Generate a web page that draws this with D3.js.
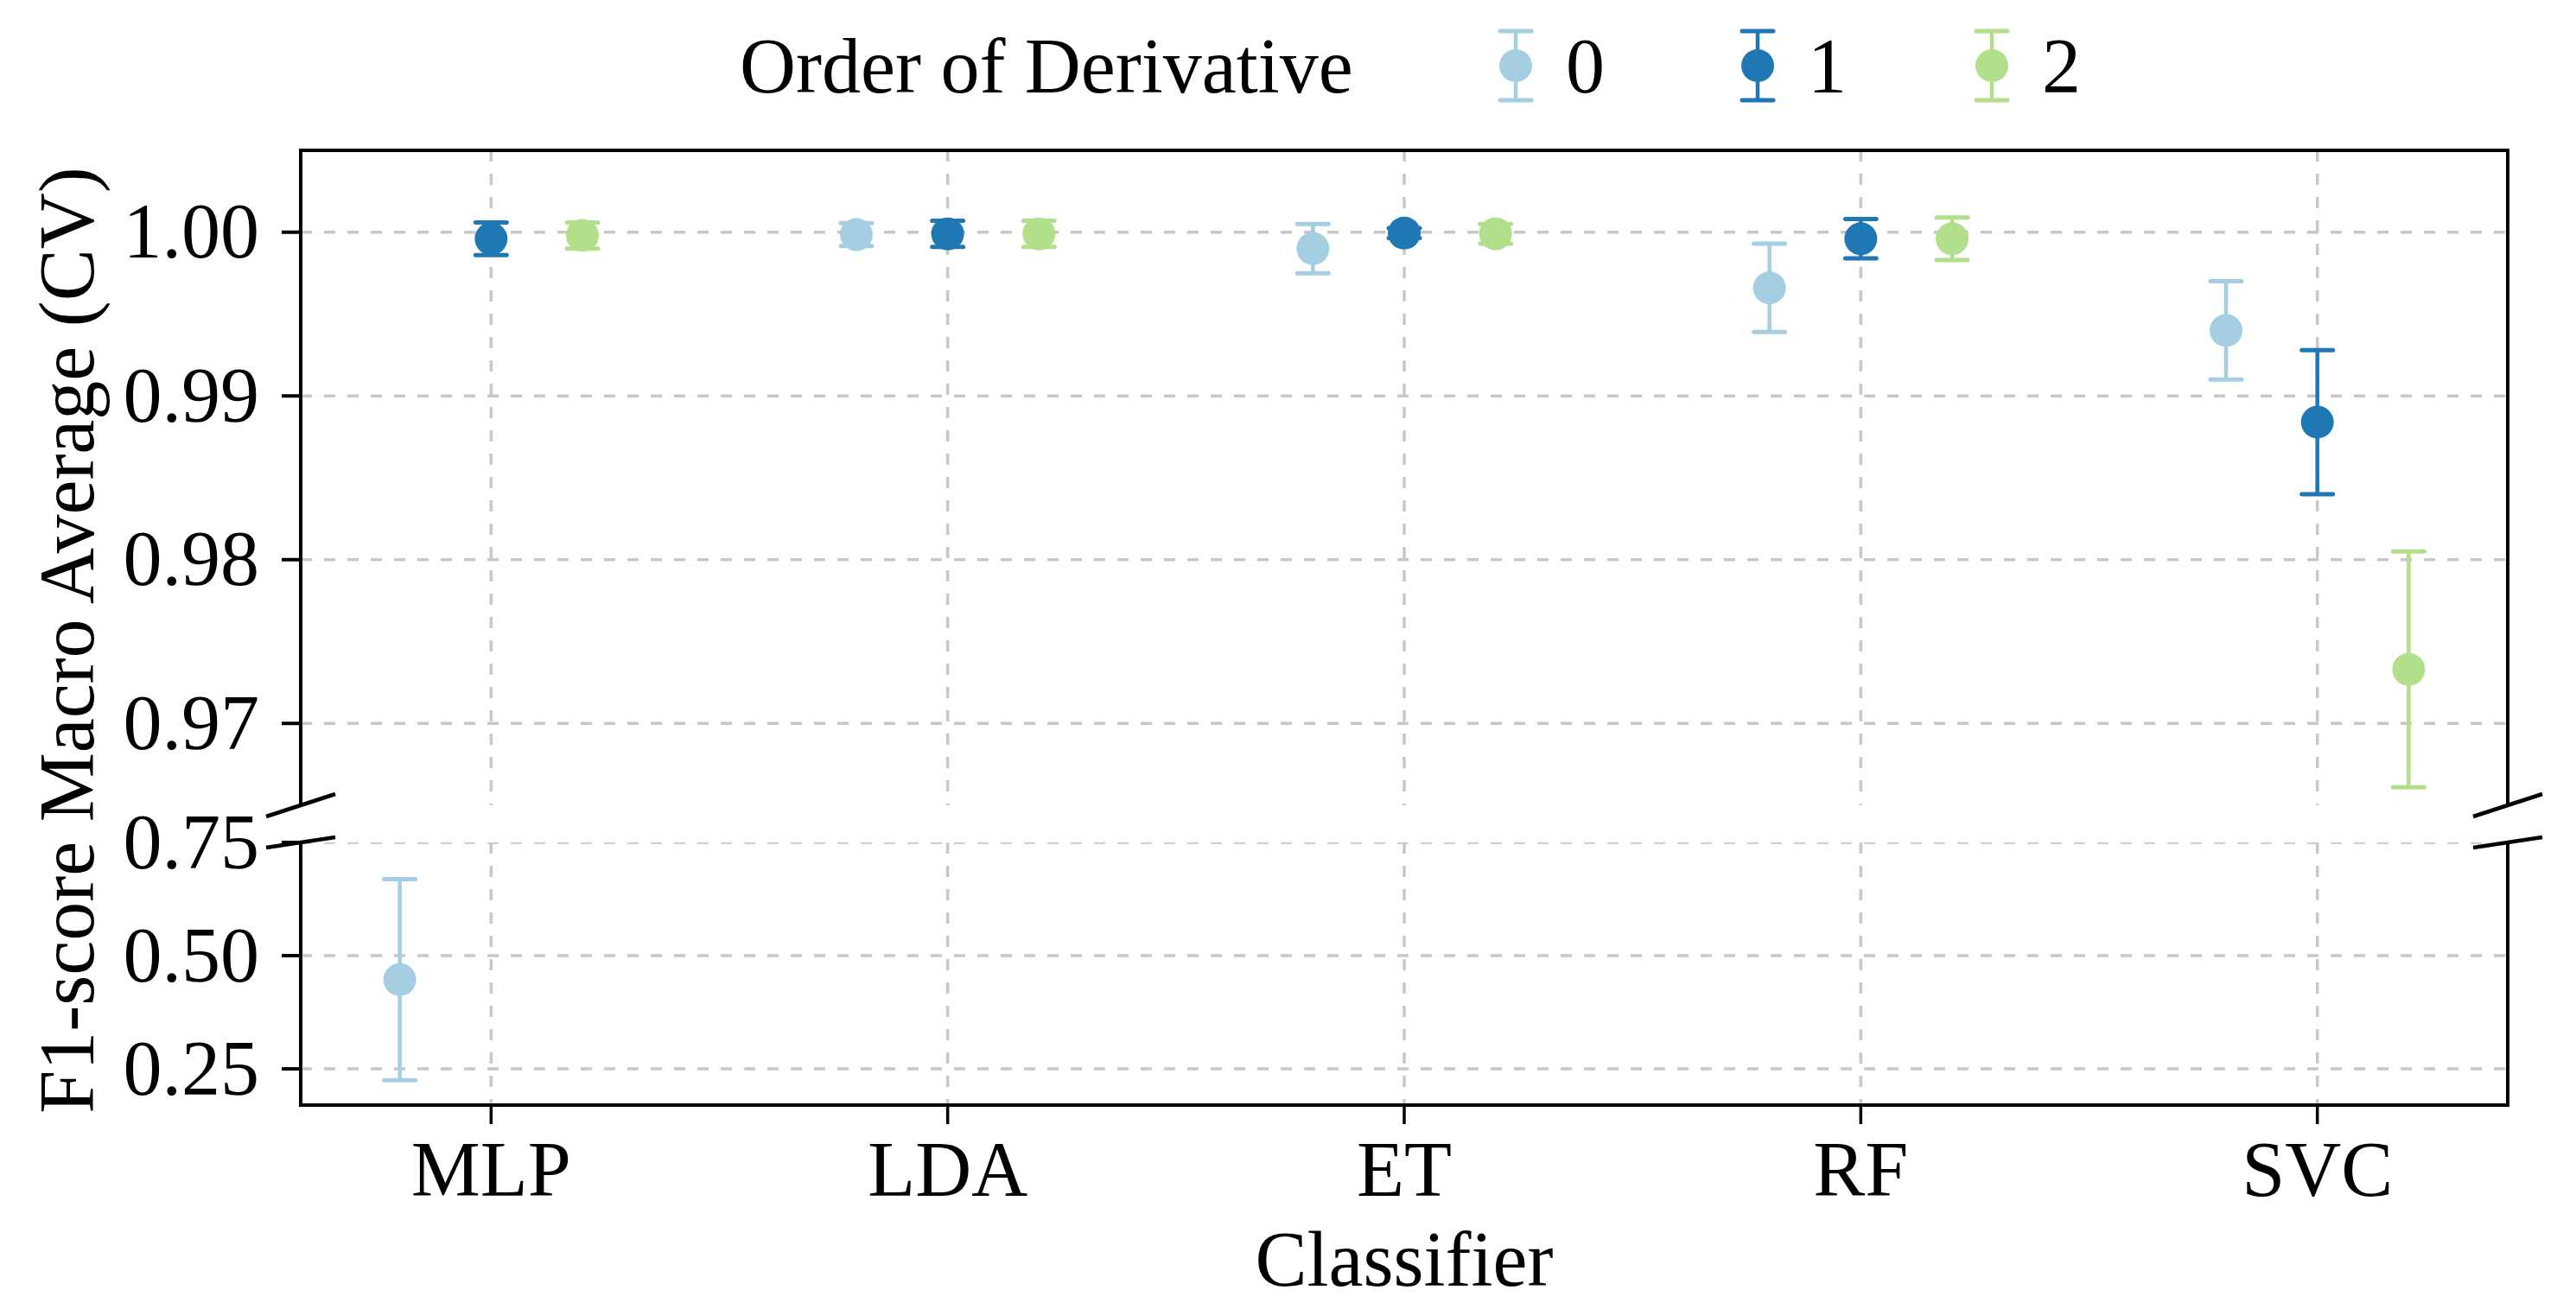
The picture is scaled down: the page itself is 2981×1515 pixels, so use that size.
<!DOCTYPE html>
<html>
<head>
<meta charset="utf-8">
<script src="https://cdn.jsdelivr.net/npm/d3@7"></script>
<style>
  html, body { margin: 0; padding: 0; background: #fff; }
  svg { display: block; }
  text { font-family: "Liberation Serif", "Times New Roman", serif; fill: #000; }
</style>
</head>
<body>
<svg id="chart" width="2981" height="1515"></svg>
<script>
// ---------------- data ----------------
const categories = ["MLP", "LDA", "ET", "RF", "SVC"];
const orders = ["0", "1", "2"];
const colors = ["#a6cee3", "#1f78b4", "#b2df8a"];
const mean0 = [0.447, 0.99985, 0.9990, 0.9966, 0.9940];
const err0  = [0.222, 0.0007, 0.0015, 0.0027, 0.0030];
const mean1 = [0.9996, 0.9999, 0.99995, 0.9996, 0.9884];
const err1  = [0.0010, 0.0008, 0.0003, 0.0012, 0.0044];
const mean2 = [0.9998, 0.9999, 0.9999, 0.9996, 0.9733];
const err2  = [0.0008, 0.0008, 0.0006, 0.0013, 0.0072];
const topTicks = [0.97, 0.98, 0.99, 1.00];
const bottomTicks = [0.25, 0.50, 0.75];
const topDomain = [0.965, 1.005];
const bottomDomain = [0.17, 0.75];
const legendTitle = "Order of Derivative";
const xTitle = "Classifier";
const yTitle = "F1-score Macro Average (CV)";

const means = [mean0, mean1, mean2];
const errs = [err0, err1, err2];

// ---------------- layout ----------------
const FONT = 90;
const left = 348, right = 2902;
const topY0 = 174, topY1 = 932;
const botY0 = 975, botY1 = 1279;
const dodge = 0.2;

const svg = d3.select("#chart");

const x = d3.scaleLinear().domain([-0.417, categories.length - 1 + 0.417]).range([left, right]);
const yTop = d3.scaleLinear().domain(topDomain).range([topY1, topY0]);
const yBot = d3.scaleLinear().domain(bottomDomain).range([botY1, botY0]);

const panels = [
  {y: yTop, y0: topY0, y1: topY1, ticks: topTicks, id: "clipTop"},
  {y: yBot, y0: botY0, y1: botY1, ticks: bottomTicks, id: "clipBot"}
];

const defs = svg.append("defs");
panels.forEach(p => {
  defs.append("clipPath").attr("id", p.id)
    .append("rect").attr("x", left).attr("y", p.y0).attr("width", right - left).attr("height", p.y1 - p.y0);
});

const gridColor = "#c8c8c8";
const gridDash = "13,14";

panels.forEach((p, pi) => {
  const g = svg.append("g").attr("clip-path", `url(#${p.id})`);
  // horizontal gridlines
  g.selectAll("line.hg").data(p.ticks).enter().append("line")
    .attr("x1", left).attr("x2", right)
    .attr("y1", d => p.y(d)).attr("y2", d => p.y(d))
    .attr("stroke", gridColor).attr("stroke-width", 3.5).attr("stroke-dasharray", gridDash);
  // vertical gridlines
  g.selectAll("line.vg").data(categories).enter().append("line")
    .attr("x1", (d, i) => x(i)).attr("x2", (d, i) => x(i))
    .attr("y1", p.y0).attr("y2", p.y1)
    .attr("stroke", gridColor).attr("stroke-width", 3.5).attr("stroke-dasharray", gridDash);

  // data
  orders.forEach((o, oi) => {
    const off = (oi - 1) * dodge;
    const gs = g.append("g");
    categories.forEach((c, ci) => {
      const m = means[oi][ci], e = errs[oi][ci];
      const cx = x(ci + off);
      const lo = p.y(m - e), hi = p.y(m + e);
      gs.append("line").attr("x1", cx).attr("x2", cx).attr("y1", lo).attr("y2", hi)
        .attr("stroke", colors[oi]).attr("stroke-width", 4.5);
      [lo, hi].forEach(yy => {
        gs.append("line").attr("x1", cx - 18).attr("x2", cx + 18).attr("y1", yy).attr("y2", yy)
          .attr("stroke", colors[oi]).attr("stroke-width", 5).attr("stroke-linecap", "round");
      });
      gs.append("circle").attr("cx", cx).attr("cy", p.y(m)).attr("r", 19).attr("fill", colors[oi]);
    });
  });

  // y axis ticks + labels
  const ax = svg.append("g");
  p.ticks.forEach(t => {
    ax.append("line").attr("x1", left - 22).attr("x2", left).attr("y1", p.y(t)).attr("y2", p.y(t))
      .attr("stroke", "#000").attr("stroke-width", 4);
    ax.append("text").attr("x", left - 48).attr("y", p.y(t)).attr("dy", "0.33em")
      .attr("text-anchor", "end").attr("font-size", FONT).text(d3.format(".2f")(t));
  });
});

// spines
const sp = svg.append("g").attr("stroke", "#000").attr("stroke-width", 4).attr("fill", "none");
sp.append("path").attr("d", `M${left},${topY1}V${topY0}H${right}V${topY1}`);
sp.append("path").attr("d", `M${left},${botY0}V${botY1}H${right}V${botY0}`);

// break marks
const bm = svg.append("g").attr("stroke", "#000").attr("stroke-width", 4.5);
[left, right].forEach(xx => {
  bm.append("line").attr("x1", xx - 40).attr("y1", topY1 + 13).attr("x2", xx + 40).attr("y2", topY1 - 13);
  bm.append("line").attr("x1", xx - 40).attr("y1", botY0 + 6).attr("x2", xx + 40).attr("y2", botY0 - 6);
});

// x axis ticks + labels
const xa = svg.append("g");
categories.forEach((c, i) => {
  xa.append("line").attr("x1", x(i)).attr("x2", x(i)).attr("y1", botY1).attr("y2", botY1 + 22)
    .attr("stroke", "#000").attr("stroke-width", 3.5);
  xa.append("text").attr("x", x(i)).attr("y", 1384).attr("text-anchor", "middle")
    .attr("font-size", FONT).text(c);
});

// axis titles
svg.append("text").attr("x", (left + right) / 2).attr("y", 1488).attr("text-anchor", "middle")
  .attr("font-size", FONT).text(xTitle);
svg.append("text").attr("transform", "translate(108,741) rotate(-90)").attr("text-anchor", "middle")
  .attr("font-size", FONT).text(yTitle);

// legend
const lg = svg.append("g");
lg.append("text").attr("x", 856).attr("y", 107).attr("font-size", FONT).text(legendTitle);
const legX = [1754, 2034, 2305];
orders.forEach((o, oi) => {
  const cx = legX[oi], cy = 76;
  lg.append("line").attr("x1", cx).attr("x2", cx).attr("y1", cy - 40).attr("y2", cy + 40)
    .attr("stroke", colors[oi]).attr("stroke-width", 4.5);
  [cy - 40, cy + 40].forEach(yy => {
    lg.append("line").attr("x1", cx - 18).attr("x2", cx + 18).attr("y1", yy).attr("y2", yy)
      .attr("stroke", colors[oi]).attr("stroke-width", 5).attr("stroke-linecap", "round");
  });
  lg.append("circle").attr("cx", cx).attr("cy", cy).attr("r", 19).attr("fill", colors[oi]);
  lg.append("text").attr("x", cx + 58).attr("y", 107).attr("font-size", FONT).text(o);
});
</script>
</body>
</html>
